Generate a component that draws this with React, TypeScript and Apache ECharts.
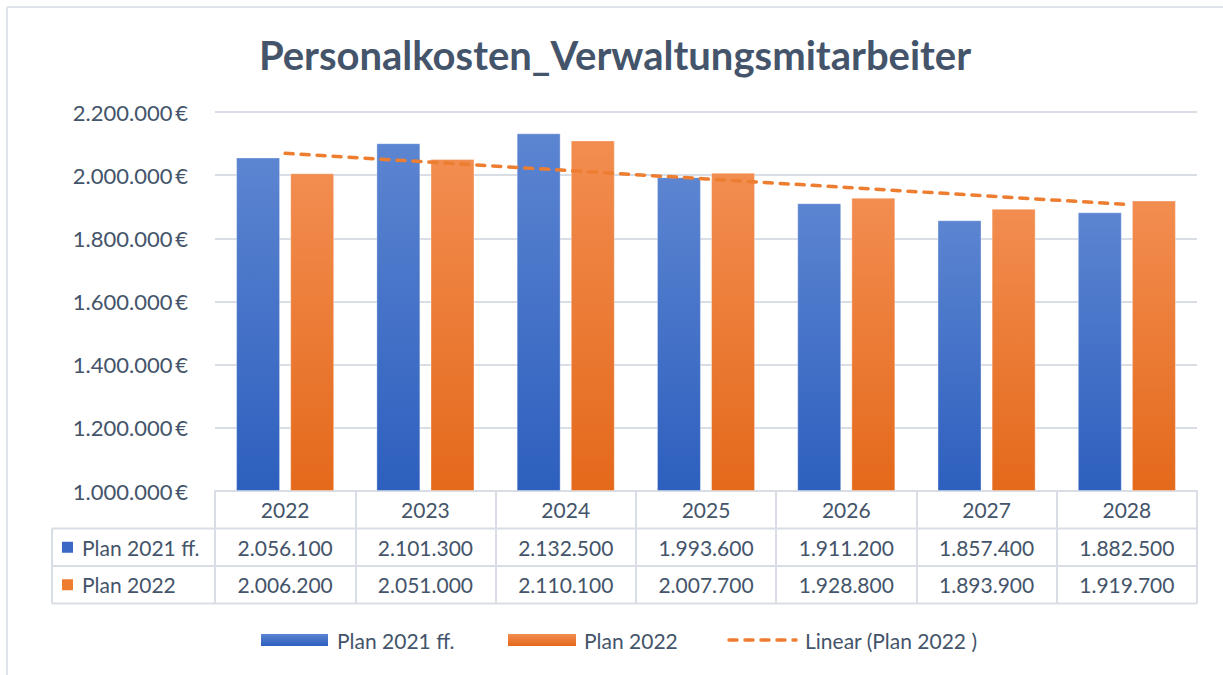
import React, { useEffect, useRef } from "react";
import * as echarts from "echarts";

const categories = ["2022", "2023", "2024", "2025", "2026", "2027", "2028"];
const plan2021 = [2056100, 2101300, 2132500, 1993600, 1911200, 1857400, 1882500];
const plan2022 = [2006200, 2051000, 2110100, 2007700, 1928800, 1893900, 1919700];
const seriesNames = ["Plan 2021 ff.", "Plan 2022", "Linear (Plan 2022 )"];
const yMin = 1000000;
const yMax = 2200000;
const yInterval = 200000;
const title = "Personalkosten_Verwaltungsmitarbeiter";

const TEXT = "#44546A";
const LINE = "#D9DEE6";
const FONT = "Lato, 'Open Sans', sans-serif";
const BLUE_TOP = "#5C85D1";
const BLUE_BOT = "#2D5FBE";
const ORANGE_TOP = "#F28D50";
const ORANGE_BOT = "#E4691B";

const fmt = (n: number) => String(Math.round(n)).replace(/\B(?=(\d{3})+(?!\d))/g, ".");

// linear trendline (least squares) of Plan 2022, like Excel's trendline
function trend(values: number[]) {
  const n = values.length;
  const xs = values.map((_, i) => i + 1);
  const mx = xs.reduce((a, b) => a + b, 0) / n;
  const my = values.reduce((a, b) => a + b, 0) / n;
  let sxy = 0, sxx = 0;
  xs.forEach((x, i) => { sxy += (x - mx) * (values[i] - my); sxx += (x - mx) * (x - mx); });
  const slope = sxy / sxx;
  return xs.map((x) => my + slope * (x - mx));
}

const grad = (top: string, bot: string) =>
  new echarts.graphic.LinearGradient(0, 0, 0, 1, [
    { offset: 0, color: top },
    { offset: 1, color: bot },
  ]);

export default function App() {
  const ref = useRef<HTMLDivElement>(null);
  useEffect(() => {
    if (!ref.current) return;
    const chart = echarts.init(ref.current, null, { renderer: "svg" });
    const gridLeft = 215, gridRight = 1197, gridTop = 112, gridBottom = 491;
    const rowH = 37.5;
    const r1 = gridBottom + rowH * 1.5;
    const r2 = gridBottom + rowH * 2.5;
    const legendY = 640;
    const textStyle = { fill: TEXT, fontSize: 21, fontFamily: FONT, verticalAlign: "middle" as const };

    const graphic: any[] = [
      { type: "line", shape: { x1: 7, y1: 7, x2: 1223, y2: 7 }, style: { stroke: "#DFE3EA", lineWidth: 2 } },
      { type: "line", shape: { x1: 7, y1: 7, x2: 7, y2: 675 }, style: { stroke: "#DFE3EA", lineWidth: 2 } },
      {
        type: "text", x: 615, y: 55,
        style: { text: title, fill: TEXT, fontSize: 40, fontWeight: "bold", fontFamily: FONT, align: "center", verticalAlign: "middle" },
      },
      // table row lines
      { type: "line", shape: { x1: 52, y1: gridBottom + rowH, x2: gridRight, y2: gridBottom + rowH }, style: { stroke: LINE, lineWidth: 2 } },
      { type: "line", shape: { x1: 52, y1: gridBottom + rowH * 2, x2: gridRight, y2: gridBottom + rowH * 2 }, style: { stroke: LINE, lineWidth: 2 } },
      { type: "line", shape: { x1: 52, y1: gridBottom + rowH * 3, x2: gridRight, y2: gridBottom + rowH * 3 }, style: { stroke: LINE, lineWidth: 2 } },
      { type: "line", shape: { x1: 52, y1: gridBottom + rowH, x2: 52, y2: gridBottom + rowH * 3 }, style: { stroke: LINE, lineWidth: 2 } },
      // row headers
      { type: "rect", shape: { x: 62, y: r1 - 5.5, width: 11, height: 11 }, style: { fill: "#3A68C4" } },
      { type: "text", x: 82, y: r1, style: { ...textStyle, text: seriesNames[0] } },
      { type: "rect", shape: { x: 62, y: r2 - 5.5, width: 11, height: 11 }, style: { fill: "#ED7D31" } },
      { type: "text", x: 82, y: r2, style: { ...textStyle, text: seriesNames[1] } },
      // legend
      { type: "rect", shape: { x: 261, y: legendY - 6, width: 67, height: 12 }, style: { fill: grad(BLUE_TOP, BLUE_BOT) } },
      { type: "text", x: 337, y: legendY, style: { ...textStyle, text: seriesNames[0] } },
      { type: "rect", shape: { x: 508, y: legendY - 6, width: 68, height: 12 }, style: { fill: grad(ORANGE_TOP, ORANGE_BOT) } },
      { type: "text", x: 584, y: legendY, style: { ...textStyle, text: seriesNames[1] } },
      { type: "line", shape: { x1: 729, y1: legendY, x2: 796, y2: legendY }, style: { stroke: "#ED7D31", lineWidth: 3.5, lineDash: [8, 8], lineCap: "round" } },
      { type: "text", x: 805, y: legendY, style: { ...textStyle, text: seriesNames[2] } },
    ];

    chart.setOption({
      animation: false,
      backgroundColor: "#FFFFFF",
      grid: { left: gridLeft, right: 1223 - gridRight, top: gridTop, bottom: 675 - gridBottom, containLabel: false },
      xAxis: {
        type: "category",
        data: categories,
        axisLine: { show: true, lineStyle: { color: LINE, width: 2 } },
        axisTick: { show: true, interval: 0, length: rowH * 3, lineStyle: { color: LINE, width: 2 } },
        axisLabel: {
          interval: 0,
          margin: 0,
          verticalAlign: "top",
          lineHeight: rowH,
          color: TEXT,
          fontSize: 21,
          fontFamily: FONT,
          formatter: (v: string, i: number) => `${v}\n${fmt(plan2021[i])}\n${fmt(plan2022[i])}`,
        },
      },
      yAxis: {
        type: "value",
        min: yMin,
        max: yMax,
        interval: yInterval,
        axisLine: { show: false },
        axisTick: { show: false },
        splitLine: { lineStyle: { color: LINE, width: 2 } },
        axisLabel: { color: TEXT, fontSize: 22, fontFamily: FONT, margin: 27, formatter: (v: number) => fmt(v) + "\u2009€" },
      },
      series: [
        { type: "bar", stack: "a", data: plan2021.map(() => yMin), itemStyle: { color: "rgba(0,0,0,0)" }, barWidth: 44, barGap: "23%", silent: true },
        {
          name: seriesNames[0], type: "bar", stack: "a", data: plan2021.map((v) => v - yMin), barWidth: 44, barGap: "23%",
          itemStyle: { color: grad(BLUE_TOP, BLUE_BOT), borderColor: "rgba(255,255,255,0.35)", borderWidth: 1 },
        },
        { type: "bar", stack: "b", data: plan2022.map(() => yMin), itemStyle: { color: "rgba(0,0,0,0)" }, barWidth: 44, barGap: "23%", silent: true },
        {
          name: seriesNames[1], type: "bar", stack: "b", data: plan2022.map((v) => v - yMin), barWidth: 44, barGap: "23%",
          itemStyle: { color: grad(ORANGE_TOP, ORANGE_BOT), borderColor: "rgba(255,255,255,0.35)", borderWidth: 1 },
        },
        {
          name: seriesNames[2], type: "line", data: trend(plan2022), symbol: "none", z: 5,
          lineStyle: { color: "#ED7D31", width: 3.5, type: [8, 8], cap: "round" },
        },
      ],
      graphic,
    });
    return () => chart.dispose();
  }, []);
  return <div ref={ref} style={{ position: "absolute", left: 0, top: 0, width: 1223, height: 675 }} />;
}
